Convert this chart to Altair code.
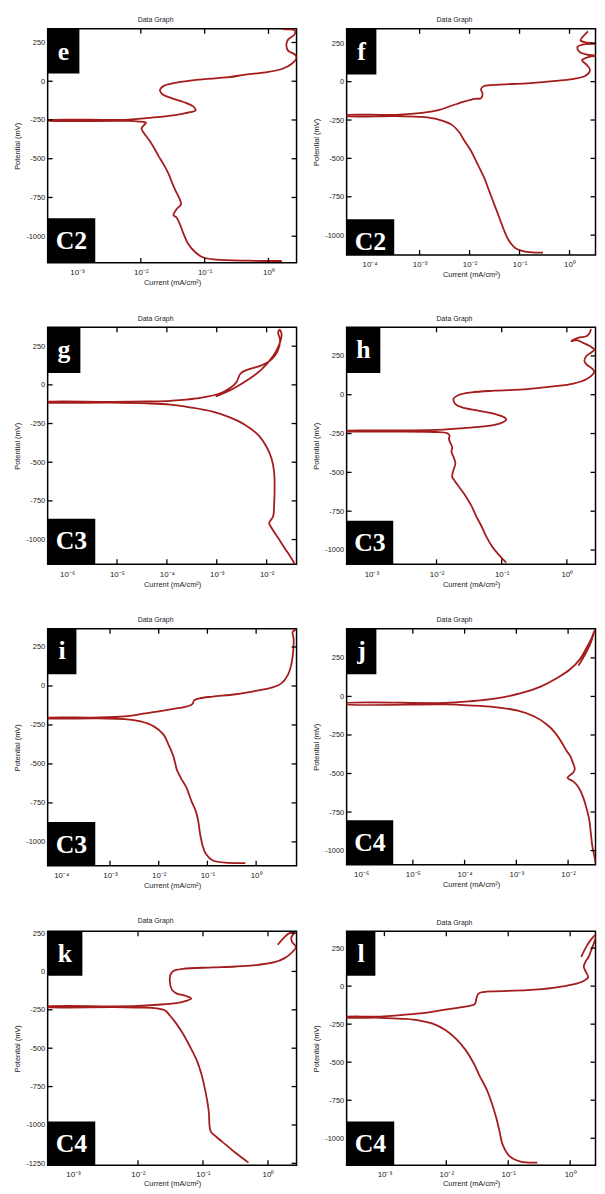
import altair as alt
import numpy as np
import pandas as pd

# ---------------- data (log10 current in mA/cm2, potential in mV) ----------------
E_LOGI = [0.21, -0.31, -0.82, -1.03, -1.15, -1.26, -1.33, -1.39, -1.44, -1.49, -1.44, -1.37, -1.39, -1.44,
          -1.50, -1.56, -1.64, -1.72, -1.79, -1.87, -1.95, -1.99, -1.95, -1.92, -2.03, -2.26, -3.49, -3.49,
          -2.26, -2.05, -1.74, -1.44, -1.23, -1.14, -1.18, -1.33, -1.54, -1.67, -1.70, -1.64, -1.44, -1.13,
          -0.62, -0.36, -0.05, 0.21, 0.36, 0.44, 0.41, 0.31, 0.28, 0.31, 0.41, 0.41, 0.23]
E_MV = [-1160, -1158, -1151, -1136, -1102, -1049, -985, -921, -879, -864, -826, -794, -762, -719,
        -666, -602, -538, -485, -432, -379, -336, -304, -283, -268, -260, -256, -253, -251,
        -249, -243, -232, -217, -200, -187, -162, -134, -106, -81, -55, -30, -9, 9,
        26, 43, 57, 79, 111, 153, 174, 196, 238, 270, 302, 328, 334]

F_LOGI = [-0.53, -0.86, -1.08, -1.22, -1.31, -1.41, -1.51, -1.61, -1.71, -1.84, -1.97, -2.10, -2.20, -2.36,
          -2.62, -2.95, -3.47, -4.52, -4.52, -3.47, -2.95, -2.62, -2.36, -2.10, -1.90, -1.77, -1.74, -1.77,
          -1.71, -1.38, -0.86, -0.33, 0.06, 0.32, 0.41, 0.35, 0.25, 0.39, 0.55, 0.35, 0.20, 0.16, 0.29,
          0.55, 0.35, 0.22, 0.29, 0.37]
F_MV = [-1114, -1109, -1086, -1032, -968, -882, -796, -710, -624, -538, -452, -387, -333, -280,
        -247, -230, -225, -223, -219, -216, -204, -185, -157, -129, -112, -108, -82, -47,
        -28, -19, -11, 4, 17, 39, 75, 108, 140, 161, 168, 176, 194, 226, 243,
        247, 254, 269, 301, 327]

G_LOGI = [-1.44, -1.51, -1.64, -1.77, -1.90, -1.95, -1.87, -1.85, -1.84, -1.85, -1.90, -2.00, -2.16, -2.43,
          -2.75, -3.08, -3.54, -3.93, -4.39, -5.11, -6.43, -6.43, -5.11, -4.39, -3.93, -3.41, -2.89, -2.62,
          -2.52, -2.36, -2.10, -1.90, -1.78, -1.73, -1.77, -1.74, -1.70, -1.76, -1.87, -2.10, -2.36, -2.69,
          -3.02]
G_MV = [-1156, -1118, -1054, -989, -925, -893, -851, -776, -669, -562, -477, -402, -327, -259,
        -209, -173, -145, -128, -120, -115, -113, -111, -110, -107, -103, -88, -49, 11,
        75, 100, 126, 165, 218, 293, 336, 357, 325, 250, 186, 100, 36, -28,
        -75]

H_LOGI = [-0.93, -1.05, -1.15, -1.24, -1.31, -1.39, -1.46, -1.55, -1.64, -1.72, -1.76, -1.74, -1.71, -1.74,
          -1.77, -1.76, -1.79, -1.81, -1.80, -1.84, -2.02, -2.77, -3.42, -3.42, -2.77, -2.02, -1.71, -1.41,
          -1.11, -0.98, -0.93, -0.96, -1.11, -1.36, -1.61, -1.71, -1.74, -1.66, -1.46, -1.11, -0.61, -0.21,
          0.10, 0.30, 0.40, 0.42, 0.37, 0.30, 0.27, 0.30, 0.37, 0.42, 0.35, 0.25, 0.15, 0.07, 0.17, 0.30,
          0.35, 0.37]
H_MV = [-1081, -1028, -975, -911, -847, -783, -719, -655, -602, -555, -528, -485, -443, -400,
        -368, -336, -309, -283, -262, -247, -240, -237, -235, -233, -230, -226, -219, -209,
        -194, -177, -160, -145, -123, -102, -81, -60, -28, -2, 15, 26, 36, 53,
        72, 100, 132, 153, 174, 196, 217, 249, 270, 292, 313, 334, 351, 345, 366, 377,
        398, 423]

I_LOGI = [-0.22, -0.56, -0.89, -1.03, -1.09, -1.15, -1.19, -1.24, -1.33, -1.43, -1.53, -1.60, -1.63, -1.70,
          -1.80, -1.90, -2.10, -2.37, -2.70, -3.24, -4.32, -4.32, -3.24, -2.70, -2.37, -2.03, -1.70, -1.43,
          -1.31, -1.27, -1.16, -0.89, -0.42, -0.02, 0.32, 0.52, 0.65, 0.72, 0.76, 0.77, 0.75, 0.82]
I_MV = [-1136, -1134, -1119, -1077, -1034, -949, -864, -801, -737, -652, -599, -556, -535, -450,
        -376, -312, -259, -227, -212, -208, -206, -204, -202, -195, -181, -164, -147, -132,
        -117, -91, -79, -68, -53, -32, -11, 17, 70, 134, 219, 304, 346, 363]

J_LOGI = [-1.47, -1.49, -1.53, -1.56, -1.59, -1.65, -1.71, -1.80, -1.90, -2.01, -1.90, -1.87, -1.91, -1.96,
          -2.03, -2.12, -2.25, -2.41, -2.66, -2.97, -3.42, -3.92, -4.37, -6.33, -6.33, -4.37, -3.92, -3.42,
          -2.91, -2.53, -2.22, -1.96, -1.77, -1.65, -1.55, -1.49, -1.56, -1.66, -1.80]
J_MV = [-1082, -1039, -975, -889, -803, -718, -653, -589, -551, -529, -493, -471, -428, -386,
        -353, -300, -236, -182, -129, -92, -69, -58, -52, -49, -45, -42, -32, -15,
        21, 64, 118, 176, 242, 311, 375, 428, 350, 280, 200]

K_LOGI = [-0.30, -0.50, -0.65, -0.80, -0.88, -0.90, -0.91, -0.94, -0.98, -1.03, -1.10, -1.20, -1.31, -1.41,
          -1.51, -1.58, -1.71, -2.01, -2.36, -3.42, -3.42, -2.36, -2.01, -1.71, -1.41, -1.26, -1.18, -1.26,
          -1.41, -1.48, -1.51, -1.50, -1.45, -1.31, -0.85, -0.50, -0.15, 0.10, 0.25, 0.38, 0.43, 0.37,
          0.36, 0.40, 0.33, 0.24, 0.15]
K_MV = [-1245, -1181, -1128, -1075, -1043, -1000, -915, -830, -745, -660, -575, -489, -404, -340,
        -287, -255, -240, -236, -233, -231, -229, -227, -224, -217, -206, -192, -177, -160,
        -143, -117, -64, -21, 4, 17, 26, 32, 43, 60, 85, 128, 160, 192,
        223, 249, 249, 217, 174]

L_LOGI = [-0.53, -0.80, -0.98, -1.09, -1.14, -1.19, -1.27, -1.35, -1.46, -1.56, -1.69, -1.85, -2.01, -2.22,
          -2.43, -2.70, -3.07, -3.65, -3.65, -3.07, -2.70, -2.38, -2.12, -1.85, -1.64, -1.54, -1.51, -1.48,
          -1.40, -1.22, -0.69, -0.27, 0.05, 0.21, 0.29, 0.25, 0.22, 0.25, 0.30, 0.34, 0.39, 0.43, 0.34,
          0.26, 0.18]
L_MV = [-1160, -1153, -1117, -1042, -956, -870, -763, -677, -591, -505, -419, -344, -290, -247,
        -226, -215, -208, -206, -203, -200, -189, -178, -161, -144, -131, -118, -75, -49,
        -39, -34, -26, -11, 11, 32, 58, 97, 129, 161, 193, 236, 290, 344, 307,
        258, 193]

PANEL_LETTERS = ["e", "f", "g", "h", "i", "j", "k", "l"]
PANEL_CONDS = ["C2", "C2", "C3", "C3", "C3", "C4", "C4", "C4"]
X_TICK_EXP = [[-3, -2, -1, 0], [-4, -3, -2, -1, 0], [-6, -5, -4, -3, -2], [-3, -2, -1, 0],
              [-4, -3, -2, -1, 0], [-6, -5, -4, -3, -2], [-3, -2, -1, 0], [-3, -2, -1, 0]]
Y_TICKS = [250, 0, -250, -500, -750, -1000]
Y_TICKS_K = [250, 0, -250, -500, -750, -1000, -1250]
X_DOMAIN_EXP = [(-3.46, 0.44), (-4.46, 0.52), (-6.39, -1.40), (-3.38, 0.44),
                (-4.28, 0.83), (-6.28, -1.47), (-3.39, 0.44), (-3.61, 0.41)]
Y_DOMAIN = [(-1172, 338), (-1129, 344), (-1160, 372), (-1092, 434),
            (-1153, 367), (-1092, 439), (-1262, 262), (-1177, 361)]
SERIES = [(E_LOGI, E_MV), (F_LOGI, F_MV), (G_LOGI, G_MV), (H_LOGI, H_MV),
          (I_LOGI, I_MV), (J_LOGI, J_MV), (K_LOGI, K_MV), (L_LOGI, L_MV)]

# ---------------- styling ----------------
W = 251
HEIGHTS = [236, 228, 239, 239, 239, 238, 236, 236]
BOX1 = [(32, 45), (30, 46), (33, 46), (34, 46), (29, 46), (30, 46), (35, 45), (29, 45)]
BOX2 = [(48, 45), (48, 36), (48, 46), (47, 44), (48, 44), (47, 45), (48, 44), (48, 44)]
RED = "#a51c1c"
SANS = "Liberation Sans, Arial, sans-serif"
NARROW = "Liberation Sans Narrow, Arial Narrow, Liberation Sans, sans-serif"
SERIF = "Liberation Serif, Times New Roman, serif"
TXT = "#222222"
SUP = {"-": "\u207b", "0": "\u2070", "1": "\u00b9", "2": "\u00b2", "3": "\u00b3",
       "4": "\u2074", "5": "\u2075", "6": "\u2076"}


def sup_label(e):
    return "10" + "".join(SUP[c] for c in str(e))


def x_label_expr(exps):
    expr = "''"
    for e in reversed(exps):
        expr = f"(abs(log(datum.value)/LN10 - ({e})) < 0.1 ? '{sup_label(e)}' : {expr})"
    return expr


def make_panel(i):
    h = HEIGHTS[i]
    last = i >= 6
    logi, mv = SERIES[i]
    xd = X_DOMAIN_EXP[i]
    yd = Y_DOMAIN[i]
    yt = Y_TICKS_K if PANEL_LETTERS[i] == "k" else Y_TICKS
    xt = [10.0 ** e for e in X_TICK_EXP[i]]
    xs = alt.Scale(type="log", domain=[10.0 ** xd[0], 10.0 ** xd[1]], nice=False)
    ys = alt.Scale(domain=list(yd), nice=False, zero=False)
    xax = alt.Axis(values=xt, labelExpr=x_label_expr(X_TICK_EXP[i]), title="Current (mA/cm\u00b2)",
                   labelOverlap=False, labelPadding=5 if last else 6, titlePadding=1 if last else 2)
    yax = alt.Axis(values=yt, labelExpr="'' + datum.value", title="Potential (mV)",
                   labelOverlap=False, minExtent=21, maxExtent=21)

    df = pd.DataFrame({"I": np.power(10.0, logi), "E": mv, "k": np.arange(len(mv))})
    line = alt.Chart(df).mark_line(color=RED, strokeWidth=1.8, clip=True,
                                   interpolate="catmull-rom").encode(
        x=alt.X("I:Q", scale=xs, axis=xax),
        y=alt.Y("E:Q", scale=ys, axis=yax),
        order="k:Q",
    )
    xt_df = pd.DataFrame({"I": xt})
    yt_df = pd.DataFrame({"E": yt})
    rs = dict(color="black", strokeWidth=1.3)
    tb = alt.Chart(xt_df).mark_rule(**rs).encode(
        x=alt.X("I:Q", scale=xs, axis=xax), y=alt.value(h), y2=alt.value(h - 5))
    tt = alt.Chart(xt_df).mark_rule(**rs).encode(
        x=alt.X("I:Q", scale=xs, axis=xax), y=alt.value(0), y2=alt.value(5))
    tl = alt.Chart(yt_df).mark_rule(**rs).encode(
        y=alt.Y("E:Q", scale=ys, axis=yax), x=alt.value(0), x2=alt.value(5))
    tr = alt.Chart(yt_df).mark_rule(**rs).encode(
        y=alt.Y("E:Q", scale=ys, axis=yax), x=alt.value(W), x2=alt.value(W - 5))

    bw1, bh1 = BOX1[i]
    bw2, bh2 = BOX2[i]
    l1 = pd.DataFrame({"t": [PANEL_LETTERS[i]]})
    l2 = pd.DataFrame({"t": [PANEL_CONDS[i]]})
    box1 = alt.Chart(l1).mark_rect(color="black").encode(
        x=alt.value(0), x2=alt.value(bw1), y=alt.value(0), y2=alt.value(bh1))
    txt1 = alt.Chart(l1).mark_text(font=SERIF, fontSize=26, fontWeight="bold", color="white",
                                   align="center", baseline="alphabetic").encode(
        x=alt.value(bw1 / 2), y=alt.value(31), text="t:N")
    box2 = alt.Chart(l2).mark_rect(color="black").encode(
        x=alt.value(0), x2=alt.value(bw2), y=alt.value(h - bh2), y2=alt.value(h))
    txt2 = alt.Chart(l2).mark_text(font=SERIF, fontSize=26, fontWeight="bold", color="white",
                                   align="center", baseline="alphabetic").encode(
        x=alt.value(bw2 / 2), y=alt.value(h - bh2 + 31), text="t:N")

    return alt.layer(line, tb, tt, tl, tr, box1, txt1, box2, txt2).properties(
        width=W, height=h,
        title=alt.TitleParams("Data Graph", font=SANS, fontSize=7, fontWeight="normal",
                              color=TXT, offset=5, frame="bounds"),
    )


panels = [make_panel(i) for i in range(8)]
rows = [alt.hconcat(panels[2 * r], panels[2 * r + 1], spacing=13.5) for r in range(4)]

chart = alt.vconcat(*rows, spacing=26).properties(
    padding={"left": 5, "top": 2, "right": 0, "bottom": 0}
).configure_view(
    stroke="black", strokeWidth=1.5
).configure_axis(
    domain=False, ticks=False, tickSize=0, grid=False,
    labelFont=NARROW, labelFontSize=7.5, labelColor=TXT,
    titleFont=SANS, titleFontSize=7.5, titleFontWeight="normal", titleColor=TXT,
).configure_axisX(
    labelFontSize=8, titleFont=NARROW
).configure_axisY(
    labelPadding=3, titlePadding=5
)

chart.save("out.html", embed_options={"renderer": "svg", "actions": False})
